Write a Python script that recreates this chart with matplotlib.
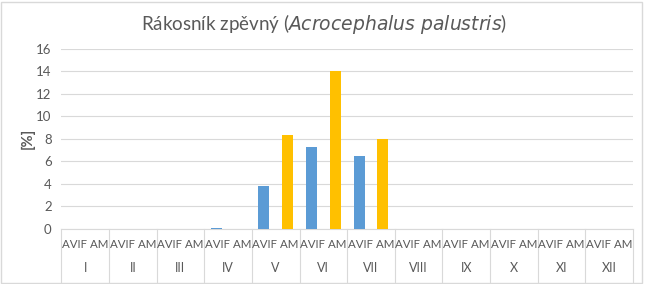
import matplotlib
matplotlib.use("Agg")
import matplotlib.pyplot as plt
from matplotlib.patches import Rectangle
import numpy as np

# ── Data ──────────────────────────────────────────────────────────────────────
months = ["I", "II", "III", "IV", "V", "VI", "VII", "VIII", "IX", "X", "XI", "XII"]
series_labels = ["AVIF", "AM"]
avif = [0, 0, 0, 0.1, 3.8, 7.3, 6.5, 0, 0, 0, 0, 0]
am   = [0, 0, 0, 0, 8.3, 14.0, 8.0, 0, 0, 0, 0, 0]
yticks = [0, 2, 4, 6, 8, 10, 12, 14, 16]

BLUE   = "#5B9BD5"
ORANGE = "#FFC000"
GRID   = "#D9D9D9"
TEXT   = "#595959"

plt.rcParams["font.family"] = ["Lato", "DejaVu Sans"]

W, H = 649, 284
fig = plt.figure(figsize=(W / 100, H / 100), dpi=100)
fig.patch.set_facecolor("white")

# outer chart border
fig.patches.append(Rectangle((1 / W, 1.5 / H), 641 / W, 281 / H, transform=fig.transFigure,
                             fill=False, edgecolor=GRID, lw=1.0))

left, right, top, bottom = 61.3, 633, 48.5, 229
ax = fig.add_axes([left / W, (H - bottom) / H, (right - left) / W, (bottom - top) / H])

n = len(months)
x_avif = np.arange(n) * 2
x_am = x_avif + 1
ax.bar(x_avif, avif, width=0.46, color=BLUE, zorder=3)
ax.bar(x_am, am, width=0.46, color=ORANGE, zorder=3)

ax.set_xlim(-0.5, 2 * n - 0.5)
ax.set_ylim(0, 16)
ax.set_yticks(yticks)
ax.set_yticklabels([str(v) for v in yticks], color=TEXT, fontsize=9.5)
ax.tick_params(axis="y", length=0, pad=7)
ax.set_xticks([])
ax.grid(axis="y", color=GRID, lw=0.8, zorder=0)
for s in ["top", "right", "left"]:
    ax.spines[s].set_visible(False)
ax.spines["bottom"].set_color(GRID)
ax.spines["bottom"].set_linewidth(0.8)

# category labels (two rows)
ph = bottom - top
tr = ax.get_xaxis_transform()
for i, m in enumerate(months):
    ax.text(2 * i + 0.5, -16 / ph, " ".join(series_labels), transform=tr,
            ha="center", va="center", fontsize=8.3, color=TEXT)
    ax.text(2 * i + 0.5, -39 / ph, m, transform=tr, ha="center", va="center",
            fontsize=9, color=TEXT)
for k in range(n + 1):
    ax.plot([2 * k - 0.5] * 2, [0, -53 / ph], transform=tr, color=GRID, lw=0.8,
            clip_on=False)

ax.set_ylabel("[%]", color=TEXT, fontsize=10.5, fontweight="bold", labelpad=1)

fig.text(0.5, 1 - 24 / H, r"Rákosník zpěvný ($\mathit{Acrocephalus\ palustris}$)",
         ha="center", va="center", fontsize=13.5, color=TEXT)

fig.savefig("out.png", dpi=100)
